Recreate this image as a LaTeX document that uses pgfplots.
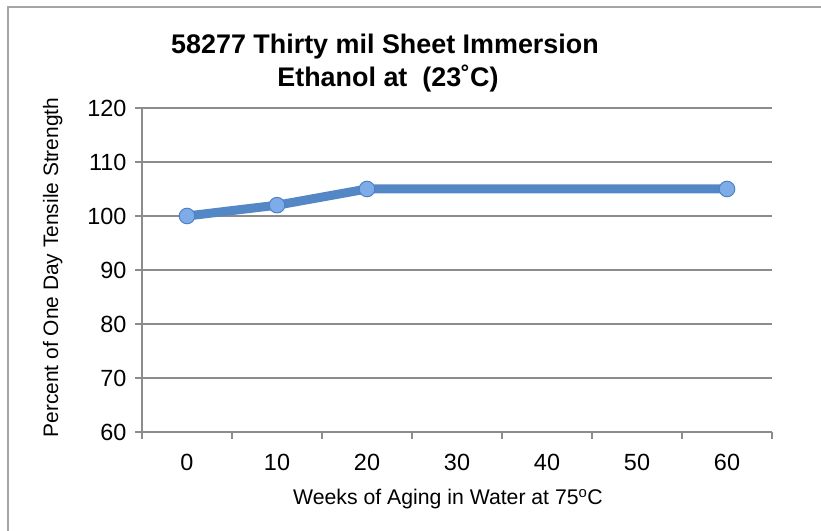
\documentclass[border=0pt]{standalone}
\usepackage{pgfplots}
\pgfplotsset{compat=1.18}
\usepackage{fontspec}
\setmainfont{Liberation Sans}
\definecolor{gridgray}{RGB}{140,140,140}
\definecolor{framegray}{RGB}{165,165,165}
\definecolor{lineblue}{RGB}{84,135,198}
\definecolor{markfill}{RGB}{125,172,232}
\definecolor{markedge}{RGB}{80,130,195}
\begin{document}
\begin{tikzpicture}[x=1bp,y=1bp]
\useasboundingbox (0,0) rectangle (821,531);
\draw[framegray, line width=1.5bp] (8,-2) -- (8,524) -- (823,524);
\begin{axis}[
  at={(142bp,99bp)}, anchor=south west,
  scale only axis, width=630bp, height=324bp,
  xmin=-0.5, xmax=6.5, ymin=60, ymax=120,
  axis x line=bottom, axis y line=left,
  axis line style={gridgray, line width=1.5bp, -},
  xtick={0,...,6}, xticklabels={0,10,20,30,40,50,60},
  minor xtick={-0.5,0.5,...,6.5},
  ytick={60,70,...,120},
  tick align=outside,
  major x tick style={draw=none},
  minor x tick style={gridgray, line width=1.5bp},
  minor tick length=7bp,
  major tick length=7bp,
  y tick style={gridgray, line width=1.5bp},
  ymajorgrids,
  major grid style={gridgray, line width=1.5bp},
  /pgf/number format/assume math mode=true,
  every tick label/.append style={font=\fontsize{23.5}{28}\selectfont},
  xticklabel style={anchor=base, yshift=-32bp, font=\fontsize{23.5}{28}\selectfont},
  yticklabel style={anchor=east, xshift=-5bp, font=\fontsize{23.5}{28}\selectfont},
  clip=false,
]
\addplot[lineblue, line width=9bp, line join=round,
  mark=*, mark size=7.8bp, mark options={fill=markfill, draw=markedge, line width=1bp}]
  coordinates {(0,100) (1,102) (2,105) (6,105)};
\end{axis}
\node[anchor=base, font=\bfseries\fontsize{27}{33}\selectfont] at (385,477) {58277 Thirty mil Sheet Immersion};
\node[anchor=base, font=\bfseries\fontsize{27}{33}\selectfont] at (388,444) {Ethanol at\ \ (23˚C)};
\node[anchor=base, rotate=90, font=\fontsize{21}{25}\selectfont] at (58,263.5) {Percent of One Day Tensile Strength};
\node[anchor=base, font=\fontsize{21.3}{25}\selectfont] at (448,26) {Weeks of Aging in Water at 75\textsuperscript{o}C};
\end{tikzpicture}
\end{document}
